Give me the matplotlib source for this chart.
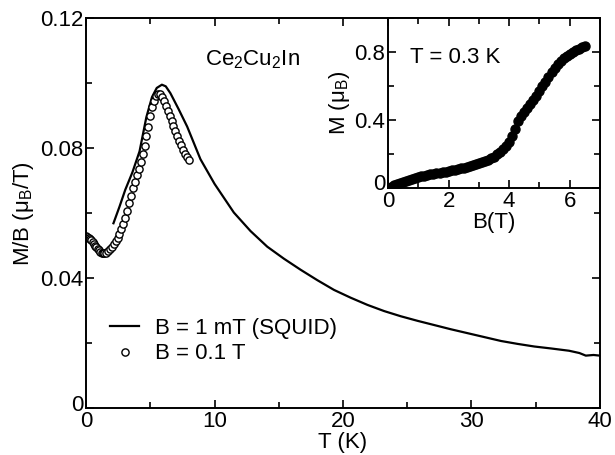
import matplotlib
matplotlib.use("Agg")
import matplotlib.pyplot as plt
import matplotlib.transforms as mtransforms
from matplotlib.ticker import MultipleLocator

plt.rcParams['font.family'] = ['Liberation Sans', 'DejaVu Sans']
plt.rcParams['mathtext.fontset'] = 'custom'
plt.rcParams['mathtext.rm'] = 'Liberation Sans'
plt.rcParams['mathtext.it'] = 'Liberation Sans'

# SQUID curve, B = 1 mT
t_squid = [2.13, 2.6, 3.05, 3.6, 4.16, 4.69, 5.13, 5.5, 5.9, 6.2, 6.56, 7.2, 7.87,
           8.9, 10.0, 11.5, 12.8, 14.1, 15.4, 16.7, 18.0, 19.3, 20.6, 21.9, 23.2,
           24.5, 25.8, 27.1, 28.4, 29.7, 31.0, 32.3, 33.6, 34.9, 36.2, 37.6, 38.4,
           38.9, 39.5, 40.0]
mb_squid = [0.0569, 0.0620, 0.0672, 0.0725, 0.0790, 0.0895, 0.0957, 0.0985, 0.0995,
            0.0990, 0.0969, 0.0920, 0.0866, 0.0766, 0.0690, 0.0602, 0.0545, 0.0497,
            0.0460, 0.0426, 0.0394, 0.0364, 0.0340, 0.0318, 0.0299, 0.0283, 0.0269,
            0.0256, 0.0243, 0.0231, 0.0219, 0.0207, 0.0198, 0.0190, 0.0184, 0.0177,
            0.0170, 0.0162, 0.0164, 0.0162]

# B = 0.1 T points
t_01 = [0.00, 0.10, 0.20, 0.30, 0.40, 0.50, 0.60, 0.70, 0.80, 0.90, 1.00, 1.10, 1.20,
        1.30, 1.40, 1.55, 1.70, 1.85, 2.00, 2.15, 2.30, 2.45, 2.60, 2.75, 2.90, 3.05,
        3.20, 3.35, 3.50, 3.65, 3.80, 3.95, 4.10, 4.25, 4.40, 4.55, 4.70, 4.85, 5.00,
        5.15, 5.30, 5.45, 5.60, 5.75, 5.90, 6.05, 6.20, 6.35, 6.50, 6.65, 6.80, 6.95,
        7.10, 7.25, 7.40, 7.55, 7.70, 7.85, 8.00]
mb_01 = [0.0530, 0.0528, 0.0525, 0.0521, 0.0517, 0.0512, 0.0506, 0.0500, 0.0495,
         0.0490, 0.0486, 0.0482, 0.0479, 0.0477, 0.0477, 0.0479, 0.0484, 0.0490,
         0.0497, 0.0505, 0.0514, 0.0524, 0.0536, 0.0550, 0.0566, 0.0585, 0.0607,
         0.0630, 0.0654, 0.0676, 0.0697, 0.0716, 0.0735, 0.0757, 0.0781, 0.0808,
         0.0836, 0.0866, 0.0898, 0.0925, 0.0946, 0.0960, 0.0967, 0.0966, 0.0958,
         0.0945, 0.0930, 0.0914, 0.0898, 0.0883, 0.0868, 0.0852, 0.0838, 0.0823,
         0.0809, 0.0795, 0.0782, 0.0772, 0.0765]

# inset: M(B) at T = 0.3 K
b_in = [0.0, 0.1, 0.2, 0.3, 0.4, 0.5, 0.6, 0.7, 0.8, 0.9, 1.0, 1.1, 1.2, 1.3, 1.4,
        1.5, 1.6, 1.7, 1.8, 1.9, 2.0, 2.1, 2.2, 2.3, 2.4, 2.5, 2.6, 2.7, 2.8, 2.9,
        3.0, 3.1, 3.2, 3.3, 3.4, 3.5, 3.6, 3.7, 3.8, 3.9, 4.0, 4.1, 4.2, 4.3, 4.4,
        4.5, 4.6, 4.7, 4.8, 4.9, 5.0, 5.1, 5.2, 5.3, 5.4, 5.5, 5.6, 5.7, 5.8, 5.9,
        6.0, 6.1, 6.2, 6.3, 6.4, 6.5]
m_in = [0.000, 0.008, 0.015, 0.022, 0.029, 0.036, 0.042, 0.048, 0.055, 0.060, 0.064,
        0.068, 0.072, 0.076, 0.080, 0.083, 0.087, 0.090, 0.093, 0.096, 0.100, 0.104,
        0.108, 0.112, 0.116, 0.120, 0.125, 0.130, 0.135, 0.140, 0.146, 0.151, 0.158,
        0.165, 0.174, 0.185, 0.198, 0.213, 0.230, 0.248, 0.272, 0.305, 0.345, 0.395,
        0.425, 0.448, 0.470, 0.493, 0.518, 0.542, 0.570, 0.598, 0.625, 0.652, 0.680,
        0.705, 0.727, 0.746, 0.762, 0.776, 0.789, 0.800, 0.810, 0.819, 0.828, 0.836]

fs = 16

fig = plt.figure(figsize=(6.15, 4.55), dpi=100)
ax = fig.add_axes([0.140, 0.1026, 0.8355, 0.8578])

ax.plot(t_squid, mb_squid, color='black', lw=1.6, label='B = 1 mT (SQUID)')
ax.plot(t_01, mb_01, ls='none', marker='o', ms=5.2, mfc='white', mec='black',
        mew=1.0, label='B = 0.1 T')

ax.set_xlim(0, 40)
ax.set_ylim(0, 0.12)
ax.set_xticks([0, 10, 20, 30, 40])
ax.set_yticks([0, 0.04, 0.08, 0.12])
ax.set_yticklabels(['0', '0.04', '0.08', '0.12'])
ax.xaxis.set_minor_locator(MultipleLocator(5))
ax.yaxis.set_minor_locator(MultipleLocator(0.02))
ax.tick_params(which='both', direction='in', top=True, right=True, labelsize=fs, pad=2)
ax.tick_params(which='major', length=6, width=1.2)
ax.tick_params(which='minor', length=4, width=1.2)
for s in ax.spines.values():
    s.set_linewidth(1.4)
ax.set_xlabel('T (K)', fontsize=fs, labelpad=0)
ax.set_ylabel('M/B (μ$_\\mathregular{B}$/T)', fontsize=fs, labelpad=3)
ax.text(0.232, 0.893, 'Ce$_\\mathregular{2}$Cu$_\\mathregular{2}$In', transform=ax.transAxes,
        fontsize=fs, va='center')
ax.legend(loc='lower left', bbox_to_anchor=(0.03, 0.09), frameon=False, fontsize=fs,
          handlelength=1.3, handletextpad=0.7, labelspacing=0.2, borderaxespad=0)

ins = fig.add_axes([0.631, 0.5868, 0.3445, 0.3736])
ins.plot(b_in, m_in, ls='none', marker='o', ms=6.5, color='black')
ins.set_xlim(0, 7)
ins.set_ylim(0, 1.0)
ins.set_xticks([0, 2, 4, 6])
ins.set_yticks([0, 0.4, 0.8])
ins.set_yticklabels(['0', '0.4', '0.8'])
ins.xaxis.set_minor_locator(MultipleLocator(1))
ins.yaxis.set_minor_locator(MultipleLocator(0.2))
ins.tick_params(which='both', direction='in', top=True, right=True, labelsize=fs, pad=2)
ins.tick_params(which='major', length=6, width=1.2)
ins.tick_params(which='minor', length=4, width=1.2)
for s in ins.spines.values():
    s.set_linewidth(1.4)
ins.set_xlabel('B(T)', fontsize=fs, labelpad=0)
ins.set_ylabel('M (μ$_\\mathregular{B}$)', fontsize=fs, labelpad=2)
ins.text(0.104, 0.77, 'T = 0.3 K', transform=ins.transAxes, fontsize=fs, va='center')

# nudge the corner "0" labels up a little so they clear the x-axis zeros
shift = mtransforms.ScaledTranslation(0, 4 / 72, fig.dpi_scale_trans)
for a in (ax, ins):
    lbl = a.yaxis.get_major_ticks()[0].label1
    lbl.set_transform(lbl.get_transform() + shift)

fig.savefig('out.png', dpi=100)
